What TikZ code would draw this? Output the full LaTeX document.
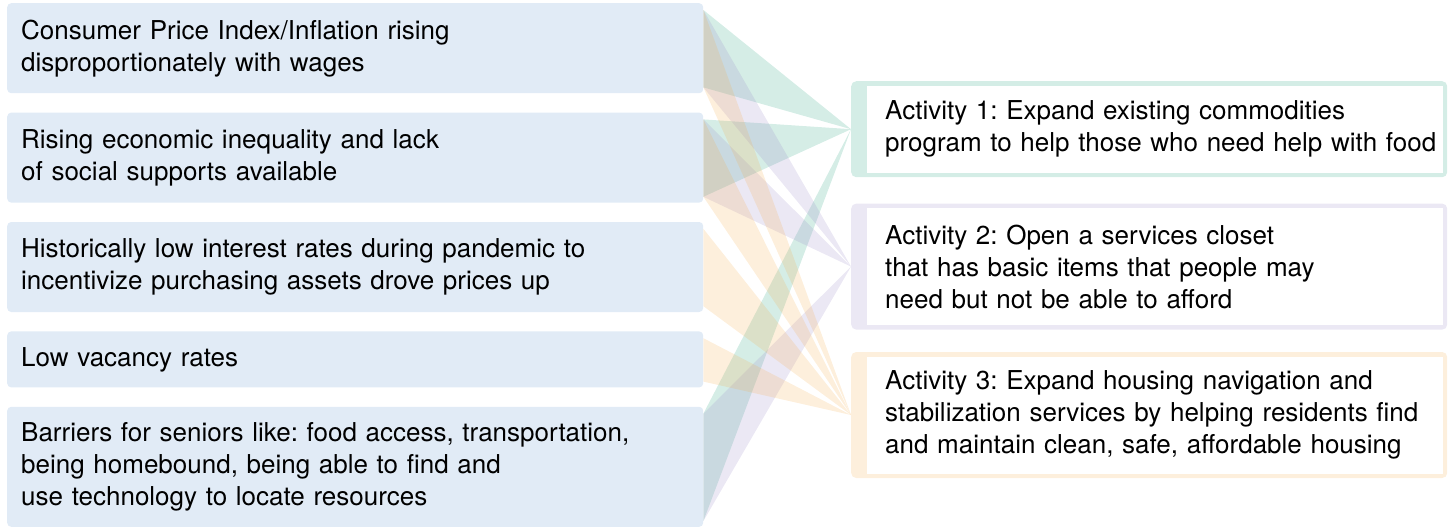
\documentclass[tikz,border=0pt]{standalone}
\usepackage{fontspec}
\setmainfont{TeX Gyre Heros}
\frenchspacing
\usetikzlibrary{positioning, backgrounds}

\definecolor{causefill}{HTML}{E1EBF6}
\definecolor{tealframe}{HTML}{D4EDE6}
\definecolor{lavframe}{HTML}{EBE8F4}
\definecolor{orangeframe}{HTML}{FDEFDC}
\definecolor{tealband}{RGB}{45,165,130}
\definecolor{lavband}{RGB}{155,140,200}
\definecolor{orangeband}{RGB}{245,175,80}

\tikzset{
  cause/.style={fill=causefill, rounded corners=4pt, text width=668pt, inner xsep=14pt, inner ysep=0pt, align=left, minimum height=#1},
  activity/.style 2 args={fill=#1, rounded corners=5pt, text width=596pt, inner xsep=0pt, inner ysep=0pt, minimum height=#2,
    execute at begin node={\parindent0pt\leftskip34pt\relax},
    path picture={\fill[white, sharp corners] ([xshift=16pt,yshift=-4.5pt]path picture bounding box.north west) rectangle ([xshift=-4.5pt,yshift=4.5pt]path picture bounding box.south east);}},
  band/.style={fill=#1, fill opacity=0.2}
}

\begin{document}
\begin{tikzpicture}[x=1pt, y=-1pt, node distance=19pt, font=\fontsize{26pt}{32pt}\selectfont]
  \useasboundingbox (0,0) rectangle (1450,531);

  % causes
  \node[cause=90pt, anchor=north west] (c1) at (7,3) {Consumer Price Index/Inflation rising\\disproportionately with wages};
  \node[cause=90pt] (c2) [below=of c1] {Rising economic inequality and lack\\of social supports available};
  \node[cause=90pt] (c3) [below=of c2] {Historically low interest rates during pandemic to\\incentivize purchasing assets drove prices up};
  \node[cause=56pt] (c4) [below=of c3] {Low vacancy rates};
  \node[cause=120pt] (c5) [below=of c4] {Barriers for seniors like: food access, transportation,\\being homebound, being able to find and\\use technology to locate resources};

  % activities
  \node[activity={tealframe}{96pt}, anchor=north west] (a1) at (851,81) {Activity 1: Expand existing commodities\\program to help those who need help with food};
  \node[activity={lavframe}{126pt}] (a2) [below=26pt of a1] {Activity 2: Open a services closet\\that has basic items that people may\\need but not be able to afford};
  \node[activity={orangeframe}{126pt}] (a3) [below=22pt of a2] {Activity 3: Expand housing navigation and\\stabilization services by helping residents find\\and maintain clean, safe, affordable housing};

  % bands
  \begin{scope}[on background layer]
    \foreach \from/\to/\col in {c1/a1/tealband, c2/a1/tealband, c5/a1/tealband, c1/a2/lavband, c2/a2/lavband, c5/a2/lavband, c1/a3/orangeband, c2/a3/orangeband, c3/a3/orangeband, c4/a3/orangeband}
      \fill[band=\col] ([yshift=-7pt]\from.north east) -- ([yshift=6pt]\from.south east) -- (\to.west) -- cycle;
  \end{scope}
\end{tikzpicture}
\end{document}
